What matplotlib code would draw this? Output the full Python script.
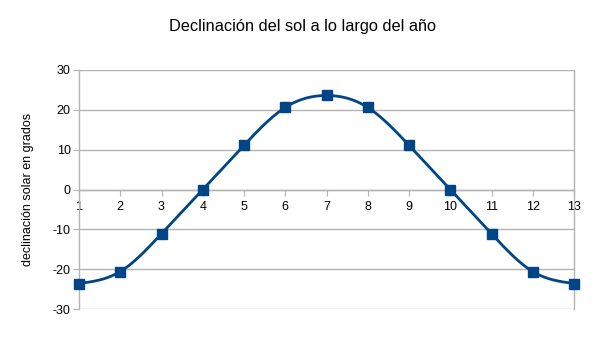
import numpy as np
import matplotlib
matplotlib.use('Agg')
import matplotlib.pyplot as plt

plt.rcParams['font.family'] = ['Liberation Sans', 'DejaVu Sans']
plt.rcParams['axes.unicode_minus'] = False

# Datos
meses = [1, 2, 3, 4, 5, 6, 7, 8, 9, 10, 11, 12, 13]
declinacion = [-23.6, -20.6, -11.1, 0, 11.1, 20.6, 23.6, 20.6, 11.1, 0, -11.1, -20.6, -23.6]
y_ticks = [-30, -20, -10, 0, 10, 20, 30]

color_linea = '#004586'
color_gris = '#b3b3b3'


def spline_natural(x, y, n=400):
    # curva suave tipo spline cubico (solo para dibujar la linea)
    x = np.asarray(x, float)
    y = np.asarray(y, float)
    k = len(x)
    h = np.diff(x)
    A = np.zeros((k, k))
    b = np.zeros(k)
    A[0, 0] = A[-1, -1] = 1
    for i in range(1, k - 1):
        A[i, i - 1] = h[i - 1]
        A[i, i] = 2 * (h[i - 1] + h[i])
        A[i, i + 1] = h[i]
        b[i] = 6 * ((y[i + 1] - y[i]) / h[i] - (y[i] - y[i - 1]) / h[i - 1])
    M = np.linalg.solve(A, b)
    xs = np.linspace(x[0], x[-1], n)
    idx = np.clip(np.searchsorted(x, xs) - 1, 0, k - 2)
    x0, x1 = x[idx], x[idx + 1]
    hh = x1 - x0
    t0, t1 = x1 - xs, xs - x0
    ys = (M[idx] * t0**3 + M[idx + 1] * t1**3) / (6 * hh) \
        + (y[idx] / hh - M[idx] * hh / 6) * t0 \
        + (y[idx + 1] / hh - M[idx + 1] * hh / 6) * t1
    return xs, ys


fig = plt.figure(figsize=(6.05, 3.4), dpi=100)
ax = fig.add_axes([79 / 605, 31 / 340, 495 / 605, 239 / 340])

xs, ys = spline_natural(meses, declinacion)
ax.plot(xs, ys, color=color_linea, lw=2.0, zorder=3, clip_on=False)
ax.plot(meses, declinacion, ls='none', marker='s', ms=6.5, color=color_linea,
        zorder=4, clip_on=False)

ax.set_xlim(1, 13)
ax.set_ylim(-30, 30)
ax.set_xticks(meses)
ax.set_yticks(y_ticks)
ax.yaxis.grid(True, color=color_gris, lw=1)
ax.set_axisbelow(True)

ax.spines['bottom'].set_position(('data', 0))
ax.spines['top'].set_visible(False)
for s in ['bottom', 'left', 'right']:
    ax.spines[s].set_color(color_gris)
    ax.spines[s].set_linewidth(1)

ax.tick_params(axis='x', direction='out', length=4, color=color_gris, labelsize=9, pad=4.5)
ax.tick_params(axis='y', direction='out', length=4, color=color_gris, labelsize=9, pad=2)

ax.set_ylabel('declinación solar en grados', fontsize=9)
ax.yaxis.set_label_coords(-45 / 495, 0.5)
fig.text(0.5, 1 - 27 / 340, 'Declinación del sol a lo largo del año',
         ha='center', va='center', fontsize=11.75)

fig.savefig('out.png', dpi=100)
